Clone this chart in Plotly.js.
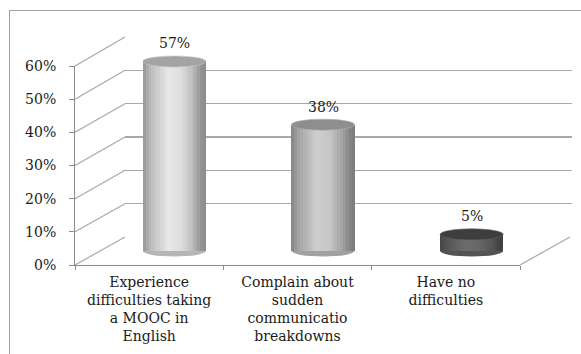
<!DOCTYPE html>
<html><head><meta charset="utf-8">
<script src="https://cdn.plot.ly/plotly-3.0.1.min.js"></script>
<style>html,body{margin:0;padding:0;background:#fff}</style>
</head><body><div id="chart" style="width:581px;height:354px"></div>
<script>
// ---- data ----
const categories = ['Experience<br>difficulties taking<br>a MOOC in<br>English',
                    'Complain about<br>sudden<br>communicatio<br>breakdowns',
                    'Have no<br>difficulties'];
const values = [0.57, 0.38, 0.05];
const barLabels = ['57%', '38%', '5%'];
const yTicks = [0, 0.1, 0.2, 0.3, 0.4, 0.5, 0.6];
const yTickLabels = ['0%', '10%', '20%', '30%', '40%', '50%', '60%'];

// ---- geometry / style ----
const W = 581, H = 354;
const px = x => x / W, py = y => 1 - y / H;
const front = {x0: 75, x1: 520, y0: 265, y1: 66};
const back  = {x0: 125, x1: 572, y0: 237, y1: 37};
const mid   = {x0: 100, x1: 546, y0: 251, y1: 51.5};
const yMax = 0.6, yMin3 = -0.05;
const gridColor = '#a8a8a8', axisColor = '#8c8c8c';
const barPeak = [232, 206, 108];
const topColors = ['#a4a4a4', '#8e8e8e', '#3e3e3e'];
const wBar = 0.424, ry = 0.0166, N = 22;
const prof = [[0,0.64],[0.12,0.8],[0.4,1],[0.6,0.96],[0.8,0.8],[0.92,0.64],[1,0.6]];
function shade(t){
  for (let i=1;i<prof.length;i++){
    if (t<=prof[i][0]){const a=prof[i-1],b=prof[i];return a[1]+(b[1]-a[1])*(t-a[0])/(b[0]-a[0]);}
  }
  return prof[prof.length-1][1];
}
const gray = g => { g=Math.max(0,Math.min(255,Math.round(g))); return `rgb(${g},${g},${g})`; };
const FS = 14;

const traces = [];
traces.push({type:'scatter', x:categories, y:values, mode:'markers', marker:{opacity:0}, hoverinfo:'skip', showlegend:false, xaxis:'x', yaxis:'y'});
traces.push({type:'scatter', x:[0,1], y:[0,yMax], mode:'markers', marker:{opacity:0}, hoverinfo:'skip', showlegend:false, xaxis:'x2', yaxis:'y2'});
for (let k=0;k<N;k++){
  const t=(k+0.5)/N, f=shade(t);
  traces.push({type:'bar', x:categories, y:values, xaxis:'x3', yaxis:'y3',
    offset: categories.map(()=> -wBar/2 + k*wBar/N),
    width: categories.map(()=> wBar/N*(k<N-1?1.35:1)),
    marker:{color: barPeak.map(p=>gray(p*f)), line:{width:0}},
    hoverinfo:'skip', showlegend:false});
}

const shapes = [];
shapes.push({type:'rect', xref:'paper', yref:'paper', x0:px(9.5), y0:py(10.5), x1:px(700), y1:py(600), line:{color:'#a0a0a0', width:1}, layer:'below'});
const yF = v => py(front.y0 + (front.y1-front.y0)*v/yMax);
const yB = v => py(back.y0 + (back.y1-back.y0)*v/yMax);
yTicks.forEach(v=>{
  shapes.push({type:'line', xref:'paper', yref:'paper', x0:px(front.x0), y0:yF(v), x1:px(back.x0), y1:yB(v), line:{color:gridColor, width:1.2}, layer:'below'});
});
shapes.push({type:'line', xref:'paper', yref:'paper', x0:px(front.x1), y0:yF(0), x1:px(back.x0+front.x1-front.x0), y1:yB(0), line:{color:gridColor, width:1.2}, layer:'below'});
values.forEach((v,i)=>{
  shapes.push({type:'circle', xref:'x3', yref:'y3', x0:i-wBar/2, x1:i+wBar/2, y0:-ry, y1:ry,
    fillcolor:gray(barPeak[i]*0.78), line:{width:0}, layer:'between'});
  shapes.push({type:'circle', xref:'x3', yref:'y3', x0:i-wBar/2, x1:i+wBar/2, y0:v-ry, y1:v+ry,
    fillcolor:topColors[i], line:{width:0.6, color:gray(barPeak[i]*0.85)}, layer:'above'});
});

const annotations = values.map((v,i)=>({xref:'x3', yref:'y3', x:i, y:v, yshift:18, text:barLabels[i], showarrow:false, yanchor:'middle', font:{size:FS, color:'#1a1a1a'}}));

const midLow = mid.y0 + (mid.y0-mid.y1)*(-yMin3)/yMax;
const layout = {
  width:W, height:H, margin:{l:0,r:0,t:0,b:0},
  paper_bgcolor:'#fff', plot_bgcolor:'rgba(0,0,0,0)',
  font:{family:'DejaVu Serif', size:FS, color:'#1a1a1a'},
  showlegend:false, barmode:'overlay', bargap:0,
  xaxis:{domain:[px(front.x0), px(front.x1)], anchor:'y', type:'category', range:[-0.5,2.5],
    showline:true, linecolor:axisColor, linewidth:1, ticks:'outside', tickson:'boundaries', ticklen:4, tickcolor:axisColor,
    showgrid:false, zeroline:false, ticklabelstandoff:4, tickfont:{size:FS}, fixedrange:true},
  yaxis:{domain:[py(front.y0), py(front.y1)], anchor:'x', range:[0,yMax], tickvals:yTicks, ticktext:yTickLabels,
    showline:true, linecolor:axisColor, linewidth:1, ticks:'outside', ticklen:5, tickcolor:axisColor,
    showgrid:false, zeroline:false, ticklabelstandoff:10, tickfont:{size:FS}, fixedrange:true},
  xaxis2:{domain:[px(back.x0), px(back.x1)], anchor:'y2', range:[0,1], visible:false, fixedrange:true},
  yaxis2:{domain:[py(back.y0), py(back.y1)], anchor:'x2', range:[0,yMax], tickvals:yTicks, showticklabels:false,
    showgrid:true, gridcolor:gridColor, gridwidth:1.2, zeroline:false, showline:false, ticks:'', fixedrange:true},
  xaxis3:{domain:[px(mid.x0), px(mid.x1)], anchor:'y3', type:'category', range:[-0.5,2.5], visible:false, fixedrange:true},
  yaxis3:{domain:[py(midLow), py(mid.y1)], anchor:'x3', range:[yMin3,yMax], visible:false, fixedrange:true},
  shapes, annotations
};
Plotly.newPlot('chart', traces, layout, {displayModeBar:false, staticPlot:true});
</script></body></html>
